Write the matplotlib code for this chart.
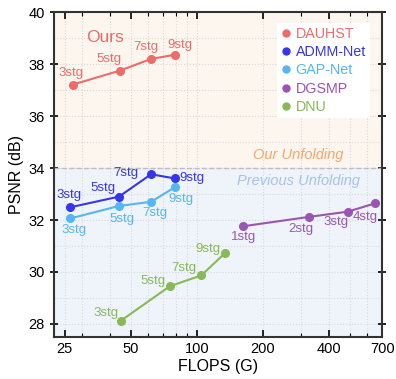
import numpy as np
import matplotlib
matplotlib.use("Agg")
import matplotlib.pyplot as plt
from matplotlib.ticker import FixedLocator, NullFormatter, LogLocator

plt.rcParams['font.family'] = ['Liberation Sans', 'DejaVu Sans']

# data (FLOPS in G, PSNR in dB)
dauhst_flops = [27.2, 44.6, 62.0, 79.5]
dauhst_psnr = [37.21, 37.75, 38.20, 38.36]
dauhst_lbl = ['3stg', '5stg', '7stg', '9stg']

admm_flops = [26.5, 44.2, 61.9, 79.4]
admm_psnr = [32.49, 32.90, 33.76, 33.60]
admm_lbl = ['3stg', '5stg', '7stg', '9stg']

gap_flops = [26.5, 44.2, 61.9, 79.4]
gap_psnr = [32.06, 32.54, 32.70, 33.26]
gap_lbl = ['3stg', '5stg', '7stg', '9stg']

dgsmp_flops = [163, 325, 487, 650]
dgsmp_psnr = [31.76, 32.12, 32.32, 32.64]
dgsmp_lbl = ['1stg', '2stg', '3stg', '4stg']

dnu_flops = [45.0, 75.3, 105, 135]
dnu_psnr = [28.12, 29.45, 29.87, 30.74]
dnu_lbl = ['3stg', '5stg', '7stg', '9stg']

x_ticks = [25, 50, 100, 200, 400, 700]

# label offsets in pixels (dx, dy up)
dauhst_off = [(-2, 12), (-11, 12), (-5, 12), (5, 10)]
admm_off = [(-1, 12), (-16, 9), (-25, 1), (17, 0)]
gap_off = [(4, -12), (3, -13), (4, -11), (6, -12)]
dgsmp_off = [(0, -11), (-8, -12), (-12, -10), (-10, -14)]
dnu_off = [(-15, 8), (-17, 5), (-18, 7), (-17, 4)]

series = [
    ('DAUHST', dauhst_flops, dauhst_psnr, dauhst_lbl, dauhst_off, '#ec6c6c'),
    ('ADMM-Net', admm_flops, admm_psnr, admm_lbl, admm_off, '#3535ee'),
    ('GAP-Net', gap_flops, gap_psnr, gap_lbl, gap_off, '#55b6f2'),
    ('DGSMP', dgsmp_flops, dgsmp_psnr, dgsmp_lbl, dgsmp_off, '#9955b2'),
    ('DNU', dnu_flops, dnu_psnr, dnu_lbl, dnu_off, '#88b858'),
]

fig = plt.figure(figsize=(3.96, 3.79), dpi=100)
ax = fig.add_axes([0.136, 0.111, 0.829, 0.857])
ax.set_xscale('log')
ax.set_xlim(22.3, 700)
ax.set_ylim(27.5, 40)

# two shaded regions
ax.axhspan(34, 40, color='#fdf6ef', zorder=0)
ax.axhspan(27.5, 34, color='#eff4fb', zorder=0)
ax.axhline(34, color='#bdbdbd', ls='--', lw=1, zorder=1)

ax.xaxis.set_major_locator(FixedLocator(x_ticks))
ax.set_xticklabels([str(t) for t in x_ticks])
ax.xaxis.set_minor_locator(LogLocator(base=10, subs=np.arange(2, 10)))
ax.xaxis.set_minor_formatter(NullFormatter())
ax.set_yticks([28, 30, 32, 34, 36, 38, 40])
ax.set_yticks(np.arange(28, 40, 1), minor=True)

ax.grid(True, which='both', ls=':', color='#d8d8d8', lw=0.8, zorder=0)
ax.set_axisbelow(True)

handles = []
for name, xs, ys, lbls, offs, col in series:
    ax.plot(xs, ys, '-o', color=col, lw=1.5, ms=5.5, zorder=3)
    h, = ax.plot([], [], 'o', color=col, ms=5, label=name)
    handles.append(h)
    for x, y, s, (dx, dy) in zip(xs, ys, lbls, offs):
        ax.annotate(s, (x, y), xytext=(dx * 0.72, dy * 0.72),
                    textcoords='offset points', ha='center', va='center',
                    color=col, fontsize=9.5, zorder=4)

ax.text(38, 39.04, 'Ours', color='#ec6c6c', fontsize=12.5, ha='center', va='center')
ax.text(290, 34.5, 'Our Unfolding', color='#f6a66e', fontsize=10.5,
        style='italic', ha='center', va='center')
ax.text(290, 33.5, 'Previous Unfolding', color='#a9c0e8', fontsize=10.5,
        style='italic', ha='center', va='center')

leg = ax.legend(handles=handles, loc='upper right', fontsize=10.3,
                frameon=True, fancybox=False, handlelength=0.6,
                handletextpad=0.4, labelspacing=0.3, borderpad=0.3,
                bbox_to_anchor=(0.985, 0.99))
leg.get_frame().set_edgecolor('none')
leg.get_frame().set_facecolor('white')
leg.get_frame().set_alpha(1)
for t, (_, _, _, _, _, col) in zip(leg.get_texts(), series):
    t.set_color(col)

for sp in ax.spines.values():
    sp.set_linewidth(1.5)
    sp.set_color('#333333')

ax.tick_params(axis='x', which='major', direction='in', top=True, length=5, width=1.2, labelsize=10.5)
ax.tick_params(axis='x', which='minor', direction='in', top=True, length=3, width=0.8)
ax.tick_params(axis='y', which='major', direction='inout', right=True, length=6, width=1.2, labelsize=10.5)
ax.tick_params(axis='y', which='minor', left=False, right=False)

ax.set_xlabel('FLOPS (G)', fontsize=11.5, labelpad=2)
ax.set_ylabel('PSNR (dB)', fontsize=11.5, labelpad=3)

fig.savefig('out.png', dpi=100)
